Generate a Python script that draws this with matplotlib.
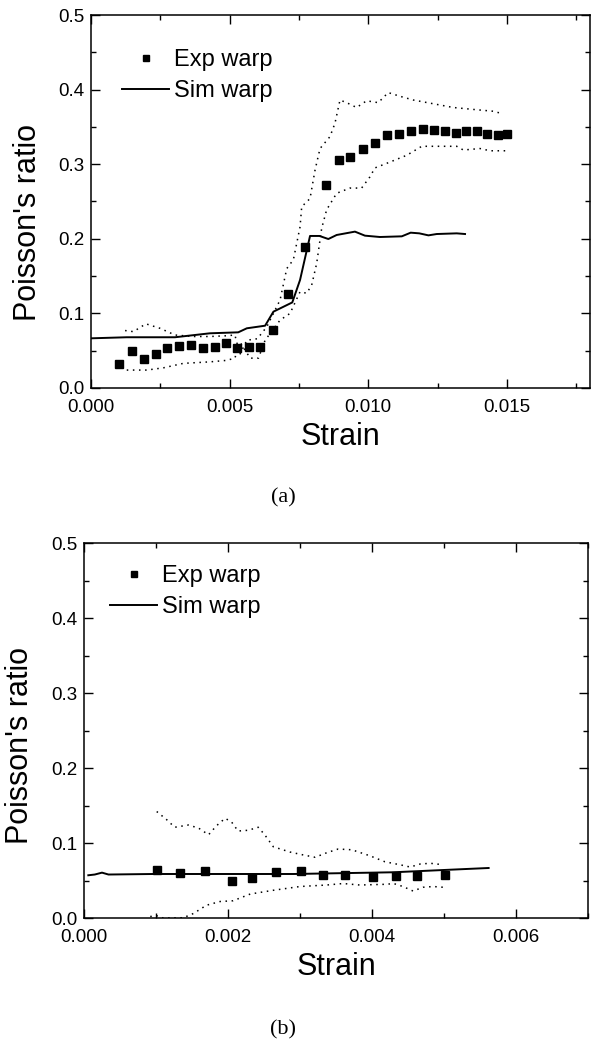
import numpy as np
import matplotlib
matplotlib.use("Agg")
import matplotlib.pyplot as plt
from matplotlib.lines import Line2D
from matplotlib.ticker import MultipleLocator, FormatStrFormatter

plt.rcParams['font.family'] = ['Liberation Sans', 'DejaVu Sans']

# ---- (a) data ----
a_exp_x = [0.00102, 0.00147, 0.00190, 0.00233, 0.00275, 0.00319, 0.00361, 0.00403,
           0.00446, 0.00487, 0.00528, 0.00570, 0.00611, 0.00658, 0.00712, 0.00773,
           0.00848, 0.00895, 0.00935, 0.00980, 0.01024, 0.01069, 0.01112, 0.01155,
           0.01199, 0.01238, 0.01277, 0.01317, 0.01354, 0.01391, 0.01430, 0.01467,
           0.01502]
a_exp_y = [0.032, 0.050, 0.039, 0.045, 0.054, 0.056, 0.057, 0.053,
           0.055, 0.060, 0.053, 0.055, 0.055, 0.078, 0.126, 0.189,
           0.272, 0.306, 0.309, 0.320, 0.328, 0.339, 0.341, 0.345,
           0.347, 0.346, 0.345, 0.342, 0.344, 0.344, 0.341, 0.339,
           0.341]

a_sim_x = [0.00003, 0.00129, 0.00303, 0.00429, 0.00531, 0.00562, 0.00628, 0.00658,
           0.00726, 0.00754, 0.00790, 0.00824, 0.00856, 0.00886, 0.00952, 0.00988,
           0.01042, 0.01121, 0.01153, 0.01184, 0.01217, 0.01247, 0.01319, 0.01349]
a_sim_y = [0.0666, 0.068, 0.068, 0.0733, 0.0746, 0.080, 0.0835, 0.1023,
           0.1147, 0.1448, 0.2038, 0.2038, 0.1997, 0.2051, 0.2096, 0.2042,
           0.2024, 0.2033, 0.2082, 0.2073, 0.2046, 0.2064, 0.2073, 0.2064]

a_up_x = [0.00123, 0.00153, 0.00198, 0.00249, 0.00303, 0.00369, 0.00429, 0.00489,
          0.00519, 0.00537, 0.00562, 0.00600, 0.00634, 0.00682, 0.00706, 0.00730,
          0.00754, 0.00760, 0.00790, 0.00808, 0.00826, 0.00862, 0.00880, 0.00898,
          0.00922, 0.00958, 0.00994, 0.01036, 0.01072, 0.01115, 0.01163, 0.01235,
          0.01307, 0.01391, 0.01451, 0.01481]
a_up_y = [0.077, 0.0755, 0.086, 0.080, 0.071, 0.069, 0.069, 0.070,
          0.071, 0.045, 0.064, 0.066, 0.082, 0.118, 0.160, 0.172,
          0.216, 0.243, 0.254, 0.292, 0.321, 0.337, 0.355, 0.386,
          0.3825, 0.376, 0.385, 0.3825, 0.396, 0.391, 0.386, 0.381,
          0.376, 0.373, 0.371, 0.368]

a_lo_x = [0.00129, 0.00201, 0.00261, 0.00333, 0.00429, 0.00489, 0.00519, 0.00537,
          0.00574, 0.00604, 0.00628, 0.00682, 0.00718, 0.00754, 0.00778, 0.00796,
          0.00814, 0.00832, 0.00850, 0.00886, 0.00934, 0.00976, 0.01006, 0.01024,
          0.01079, 0.01139, 0.01193, 0.01247, 0.01319, 0.01343, 0.01403, 0.01439,
          0.01500]
a_lo_y = [0.024, 0.024, 0.027, 0.033, 0.035, 0.037, 0.040, 0.062,
          0.040, 0.040, 0.064, 0.091, 0.100, 0.129, 0.127, 0.138,
          0.167, 0.214, 0.239, 0.261, 0.268, 0.268, 0.283, 0.295,
          0.303, 0.312, 0.324, 0.324, 0.324, 0.319, 0.321, 0.318,
          0.318]

# ---- (b) data ----
b_exp_x = [0.00101, 0.00134, 0.00168, 0.00206, 0.00233, 0.00266, 0.00302, 0.00332,
           0.00363, 0.00401, 0.00433, 0.00463, 0.00501]
b_exp_y = [0.064, 0.060, 0.063, 0.049, 0.054, 0.061, 0.063, 0.058,
           0.058, 0.055, 0.056, 0.056, 0.057]

b_sim_x = [0.00006, 0.00015, 0.00025, 0.00034, 0.00096, 0.00291, 0.00430, 0.00499, 0.00562]
b_sim_y = [0.057, 0.058, 0.0605, 0.058, 0.0587, 0.0587, 0.061, 0.064, 0.0667]

b_up_x = [0.00101, 0.00115, 0.00126, 0.00145, 0.00159, 0.00173, 0.00184, 0.00196,
          0.00205, 0.00214, 0.00228, 0.00242, 0.00251, 0.00263, 0.00286, 0.00305,
          0.00321, 0.00337, 0.00353, 0.00372, 0.00397, 0.00418, 0.00439, 0.00453,
          0.00467, 0.00481, 0.00499]
b_up_y = [0.142, 0.131, 0.121, 0.124, 0.120, 0.111, 0.123, 0.133,
          0.128, 0.116, 0.117, 0.121, 0.111, 0.095, 0.088, 0.084,
          0.081, 0.087, 0.092, 0.091, 0.083, 0.075, 0.071, 0.068,
          0.072, 0.073, 0.071]

b_lo_x = [0.00092, 0.00101, 0.00110, 0.00138, 0.00152, 0.00170, 0.00189, 0.00207,
          0.00231, 0.00263, 0.00300, 0.00337, 0.00360, 0.00383, 0.00420, 0.00430,
          0.00443, 0.00457, 0.00471, 0.00485, 0.00499]
b_lo_y = [0.002, 0.003, 0.0, 0.0004, 0.006, 0.017, 0.022, 0.023,
          0.032, 0.037, 0.042, 0.044, 0.046, 0.044, 0.045, 0.046,
          0.042, 0.036, 0.041, 0.042, 0.041]


def style_axes(ax, xmax, xmajor, xminor):
    ax.set_xlim(0, xmax)
    ax.set_ylim(0, 0.5)
    ax.xaxis.set_major_locator(MultipleLocator(xmajor))
    ax.xaxis.set_minor_locator(MultipleLocator(xminor))
    ax.yaxis.set_major_locator(MultipleLocator(0.1))
    ax.yaxis.set_minor_locator(MultipleLocator(0.05))
    ax.xaxis.set_major_formatter(FormatStrFormatter('%.3f'))
    ax.yaxis.set_major_formatter(FormatStrFormatter('%.1f'))
    ax.tick_params(which='both', direction='in', top=True, right=True, width=1.0)
    ax.tick_params(which='major', length=6.5, labelsize=13.5)
    ax.tick_params(which='minor', length=3.5)
    ax.tick_params(axis='x', which='major', pad=8)
    ax.tick_params(axis='y', which='major', pad=5)
    for s in ax.spines.values():
        s.set_linewidth(1.1)
    ax.set_xlabel('Strain', fontsize=22)


def draw(ax, ex, ey, sx, sy, ux, uy, lx, ly):
    ax.plot(ux, uy, color='black', lw=1.1, ls=(0, (1, 3)))
    ax.plot(lx, ly, color='black', lw=1.1, ls=(0, (1, 3)))
    ax.plot(sx, sy, color='black', lw=1.4)
    ax.plot(ex, ey, ls='none', marker='s', ms=5.5, color='black')


def add_legend(ax, anchor):
    handles = [Line2D([], [], ls='none', marker='s', ms=4.5, color='black'),
               Line2D([], [], color='black', lw=1.4)]
    ax.legend(handles, ['Exp warp', 'Sim warp'], loc='upper left',
              bbox_to_anchor=anchor, frameon=False, fontsize=17,
              handlelength=2.0, handletextpad=0.22, labelspacing=0.38,
              borderpad=0, borderaxespad=0)


fig = plt.figure(figsize=(5.97, 10.5), dpi=100)

ax1 = fig.add_axes([0.1524, 0.6305, 0.836, 0.3552])
draw(ax1, a_exp_x, a_exp_y, a_sim_x, a_sim_y, a_up_x, a_up_y, a_lo_x, a_lo_y)
style_axes(ax1, 0.018, 0.005, 0.0025)
add_legend(ax1, (0.062, 0.909))
ax1.set_ylabel("Poisson's ratio", fontsize=22, va='center')
ax1.yaxis.set_label_coords(-0.126, 0.445)

ax2 = fig.add_axes([0.1407, 0.1257, 0.8442, 0.3571])
draw(ax2, b_exp_x, b_exp_y, b_sim_x, b_sim_y, b_up_x, b_up_y, b_lo_x, b_lo_y)
style_axes(ax2, 0.007, 0.002, 0.001)
add_legend(ax2, (0.0516, 0.942))
ax2.set_ylabel("Poisson's ratio", fontsize=22, va='center')
ax2.yaxis.set_label_coords(-0.127, 0.461)

fig.text(283 / 597, 1 - 498 / 1050, '(a)', ha='center', va='center',
         fontsize=16, family=['Liberation Serif', 'DejaVu Serif'])
fig.text(283 / 597, 1 - 1030 / 1050, '(b)', ha='center', va='center',
         fontsize=16, family=['Liberation Serif', 'DejaVu Serif'])

fig.savefig('out.png', dpi=100)
